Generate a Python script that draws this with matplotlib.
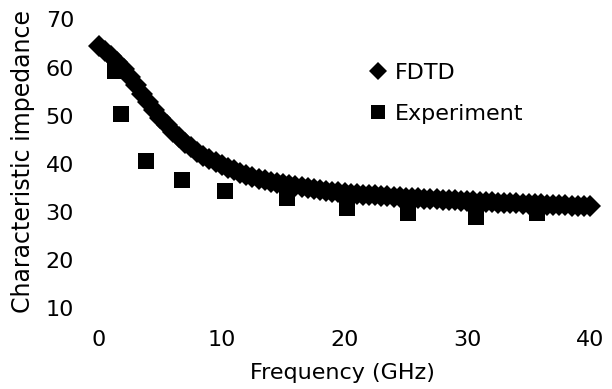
import matplotlib.pyplot as plt
import numpy as np

# FDTD curve, every 0.5 GHz
fdtd_freq = np.arange(0, 40.01, 0.5)
fdtd_z = [64.4, 63.5, 62.4, 61.1, 59.6, 58.0, 56.3, 54.5, 52.8, 51.1,
          49.5, 48.0, 46.7, 45.5, 44.4, 43.4, 42.5, 41.7, 41.0, 40.3,
          39.7, 39.1, 38.6, 38.1, 37.7, 37.3, 36.9, 36.6, 36.3, 36.0,
          35.7, 35.5, 35.3, 35.1, 34.9, 34.7, 34.5, 34.4, 34.2, 34.1,
          33.9, 33.8, 33.7, 33.6, 33.5, 33.4, 33.3, 33.2, 33.1, 33.0,
          32.9, 32.9, 32.8, 32.7, 32.6, 32.6, 32.5, 32.4, 32.4, 32.3,
          32.2, 32.2, 32.1, 32.1, 32.0, 31.9, 31.9, 31.8, 31.8, 31.7,
          31.7, 31.6, 31.6, 31.5, 31.5, 31.4, 31.4, 31.3, 31.3, 31.2,
          31.2]

# measured points
exp_freq = [1.3, 1.8, 3.8, 6.8, 10.3, 15.3, 20.2, 25.2, 30.7, 35.7]
exp_z = [59.2, 50.4, 40.5, 36.6, 34.4, 32.8, 30.8, 29.8, 28.9, 29.8]

x_ticks = [0, 10, 20, 30, 40]
y_ticks = [10, 20, 30, 40, 50, 60, 70]

plt.rcParams['font.family'] = 'DejaVu Sans'
plt.rcParams['font.size'] = 16

fig = plt.figure(figsize=(6.12, 3.89), dpi=100)
ax = fig.add_axes([0.1618, 0.2082, 0.8023, 0.7417])

ax.plot(fdtd_freq, fdtd_z, linestyle='none', marker='D', ms=11.2,
        color='black', mew=0, label='FDTD', clip_on=False)
ax.plot(exp_freq, exp_z, linestyle='none', marker='s', ms=11.5,
        color='black', mew=0, label='Experiment', clip_on=False)

ax.set_xlim(0, 40)
ax.set_ylim(10, 70)
ax.set_xticks(x_ticks)
ax.set_yticks(y_ticks)
for s in ax.spines.values():
    s.set_visible(False)
ax.tick_params(axis='both', length=0, labelsize=16)
ax.tick_params(axis='y', pad=18)
ax.tick_params(axis='x', pad=16)

fig.text(342 / 612, 1 - 363 / 389, 'Frequency (GHz)', ha='center', va='top',
         fontsize=16)
fig.text(23 / 612, 1 - 313 / 389, 'Characteristic impedance', rotation=90,
         ha='center', va='bottom', fontsize=17)

leg = ax.legend(loc='upper left', bbox_to_anchor=(367 / 612, 1 - 63 / 389),
                bbox_transform=fig.transFigure, frameon=False, borderpad=0,
                borderaxespad=0, handlelength=1.0, handletextpad=0.27,
                labelspacing=0.95, markerscale=0.8, fontsize=16)
leg.legend_handles[1].set_markersize(10)

fig.savefig('out.png', dpi=100)
